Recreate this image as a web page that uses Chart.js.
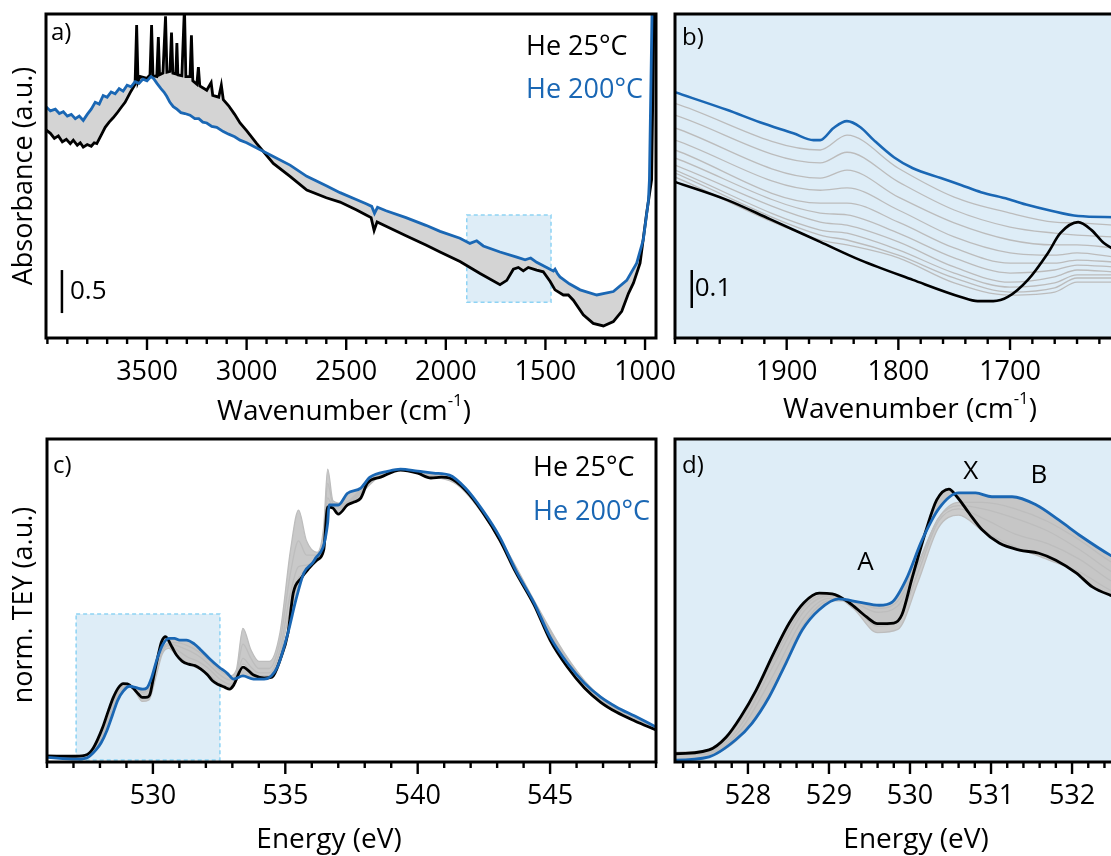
<!DOCTYPE html>
<html>
<head>
<meta charset="utf-8">
<title>IR and O K-edge spectra</title>
<script src="https://cdn.jsdelivr.net/npm/chart.js@4.4.1/dist/chart.umd.min.js"></script>
<style>
  html, body { margin: 0; padding: 0; background: #fff; width: 1111px; height: 856px; overflow: hidden; }
  canvas { position: absolute; }
</style>
</head>
<body>
<canvas id="panelB" width="455" height="430" style="left:660px;top:0"></canvas>
<canvas id="panelA" width="700" height="430" style="left:0;top:0"></canvas>
<canvas id="panelD" width="455" height="426" style="left:660px;top:430px"></canvas>
<canvas id="panelC" width="700" height="426" style="left:0;top:430px"></canvas>
<script>
// ---------- a) IR absorbance, full range ----------
const aTickLabels = [3500, 3000, 2500, 2000, 1500, 1000];
const aBlueWave = [4007, 3985, 3960, 3940, 3920, 3900, 3880, 3860, 3840, 3820, 3800, 3780, 3760, 3740, 3720,
  3700, 3680, 3660, 3640, 3620, 3600, 3580, 3560, 3540, 3520, 3500, 3480, 3468, 3450, 3430, 3415, 3401, 3385,
  3368, 3350, 3330, 3310, 3284, 3260, 3240, 3220, 3200, 3175, 3150, 3117, 3090, 3060, 3033, 3000, 2949, 2866,
  2782, 2698, 2600, 2531, 2450, 2400, 2372, 2358, 2343, 2300, 2200, 2100, 2029, 1929, 1879, 1845, 1812, 1728,
  1644, 1602, 1574, 1544, 1477, 1460, 1452, 1440, 1427, 1380, 1326, 1242, 1159, 1092, 1042, 1009, 983, 978, 965, 945];
const aBlue = [2.69, 2.64, 2.66, 2.61, 2.63, 2.58, 2.60, 2.55, 2.58, 2.53, 2.60, 2.66, 2.74, 2.72, 2.82,
  2.80, 2.86, 2.84, 2.90, 2.87, 2.94, 2.92, 2.98, 2.96, 3.01, 2.99, 3.04, 3.02, 2.96, 2.90, 2.86, 2.81, 2.74,
  2.69, 2.66, 2.62, 2.61, 2.59, 2.55, 2.55, 2.51, 2.50, 2.46, 2.45, 2.40, 2.37, 2.34, 2.30, 2.27, 2.21, 2.11,
  2.01, 1.88, 1.77, 1.69, 1.61, 1.56, 1.53, 1.45, 1.52, 1.48, 1.40, 1.31, 1.24, 1.16, 1.10, 1.13, 1.07, 1.00,
  0.94, 0.91, 0.93, 0.88, 0.80, 0.78, 0.80, 0.75, 0.71, 0.63, 0.56, 0.50, 0.54, 0.67, 0.87, 1.14, 1.60, 1.84, 3.77, 4.60];
const aBlackWave = [4007, 3985, 3965, 3945, 3925, 3905, 3885, 3870, 3850, 3835, 3820, 3800, 3780, 3765, 3752,
  3730, 3710, 3690, 3670, 3652, 3630, 3610, 3585, 3560, 3552, 3545, 3535, 3500, 3485, 3477, 3470, 3451, 3443,
  3437, 3420, 3407, 3400, 3385, 3377, 3370, 3355, 3350, 3345, 3325, 3312, 3305, 3284, 3277, 3270, 3250, 3242,
  3235, 3200, 3178, 3170, 3140, 3127, 3117, 3090, 3060, 3033, 3000, 2949, 2866, 2782, 2698, 2600, 2531, 2450,
  2400, 2375, 2360, 2345, 2300, 2200, 2100, 2029, 1929, 1828, 1728, 1694, 1661, 1636, 1611, 1586, 1544, 1511,
  1477, 1452, 1410, 1385, 1360, 1310, 1260, 1209, 1159, 1117, 1083, 1058, 1025, 992, 967, 955, 945];
const aBlack = [2.42, 2.38, 2.32, 2.35, 2.28, 2.31, 2.26, 2.30, 2.24, 2.27, 2.22, 2.25, 2.23, 2.27, 2.26,
  2.36, 2.45, 2.51, 2.56, 2.61, 2.68, 2.74, 2.85, 2.95, 3.64, 2.98, 3.04, 3.02, 3.06, 3.64, 3.05, 3.04, 3.50,
  3.06, 3.08, 3.74, 3.09, 3.10, 3.55, 3.08, 3.07, 3.43, 3.06, 3.05, 3.85, 3.04, 3.04, 3.52, 2.99, 2.95, 3.15,
  2.93, 2.88, 2.97, 2.82, 2.80, 2.94, 2.77, 2.70, 2.60, 2.50, 2.41, 2.26, 2.03, 1.88, 1.72, 1.63, 1.58, 1.49,
  1.43, 1.40, 1.25, 1.35, 1.30, 1.19, 1.08, 1.00, 0.89, 0.75, 0.62, 0.67, 0.80, 0.82, 0.78, 0.82, 0.79, 0.77,
  0.66, 0.56, 0.50, 0.50, 0.44, 0.27, 0.17, 0.14, 0.19, 0.31, 0.52, 0.64, 0.87, 1.45, 1.84, 3.80, 4.60];
const aZoomWave = [1895, 1472];
const aZoomAbs = [0.415, 1.43];

// ---------- b) IR absorbance, carbonyl region ----------
const bTickLabels = [1900, 1800, 1700];
const bBlueWave = [2000, 1953, 1924, 1894, 1876, 1870, 1858, 1846, 1834, 1822, 1804, 1787, 1762, 1744, 1726,
  1702, 1684, 1666, 1639, 1606];
const bBlue = [0.647, 0.600, 0.568, 0.539, 0.521, 0.521, 0.553, 0.571, 0.555, 0.521, 0.476, 0.447, 0.421, 0.403,
  0.384, 0.366, 0.350, 0.337, 0.321, 0.318];
const bBlackWave = [2000, 1953, 1915, 1870, 1834, 1787, 1744, 1729, 1715, 1702, 1684, 1666, 1655, 1639, 1627, 1616, 1606];
const bBlack = [0.411, 0.363, 0.313, 0.253, 0.205, 0.153, 0.108, 0.097, 0.097, 0.108, 0.153, 0.224, 0.276, 0.305,
  0.284, 0.250, 0.232];
const bGrayWave = [2000, 1870, 1846, 1800, 1750, 1700, 1660, 1640, 1606];
const bGrayLines = [
  [0.618, 0.495, 0.534, 0.447, 0.371, 0.329, 0.305, 0.303, 0.297],
  [0.587, 0.461, 0.489, 0.411, 0.337, 0.292, 0.276, 0.271, 0.266],
  [0.553, 0.421, 0.442, 0.371, 0.303, 0.258, 0.245, 0.245, 0.237],
  [0.521, 0.389, 0.395, 0.337, 0.266, 0.224, 0.218, 0.224, 0.213],
  [0.495, 0.355, 0.355, 0.305, 0.237, 0.197, 0.197, 0.205, 0.200],
  [0.474, 0.329, 0.324, 0.276, 0.211, 0.171, 0.179, 0.192, 0.187],
  [0.455, 0.305, 0.297, 0.253, 0.187, 0.147, 0.161, 0.179, 0.174],
  [0.442, 0.284, 0.276, 0.232, 0.171, 0.134, 0.145, 0.166, 0.166],
  [0.434, 0.271, 0.258, 0.218, 0.158, 0.121, 0.132, 0.158, 0.158],
  [0.424, 0.258, 0.245, 0.211, 0.145, 0.113, 0.121, 0.147, 0.147]
];

// ---------- c) / d) O K-edge TEY ----------
const cTickLabels = [530, 535, 540, 545];
const dTickLabels = [528, 529, 530, 531, 532];
const dEnergyRange = [527.1, 532.53];
const dTeyRange = [-0.014, 0.495];
const cBlackEnergy = [526.0, 527.09, 527.52, 527.73, 527.91, 528.1, 528.32, 528.51, 528.69, 528.88, 529.04,
  529.25, 529.46, 529.6, 529.8, 529.9, 530.02, 530.2, 530.33, 530.48, 530.58, 530.73, 530.89, 531.1, 531.35,
  531.59, 531.8, 532.05, 532.25, 532.47, 532.7, 532.9, 533.05, 533.4, 533.8, 534.2, 534.5, 534.8, 535.1, 535.3,
  535.6, 535.9, 536.2, 536.45, 536.6, 536.8, 537.0, 537.35, 537.6, 537.85, 538.1, 538.6, 539.35, 540.0, 540.5,
  540.9, 541.2, 541.8, 542.45, 543.1, 543.7, 544.4, 545.0, 545.65, 546.3, 546.9, 547.5, 548.2, 549.0];
const cBlack = [0.000, -0.001, 0.005, 0.025, 0.057, 0.099, 0.158, 0.205, 0.237, 0.252, 0.251, 0.237, 0.215,
  0.204, 0.205, 0.218, 0.273, 0.352, 0.399, 0.416, 0.404, 0.378, 0.352, 0.331, 0.320, 0.315, 0.304, 0.284,
  0.262, 0.249, 0.240, 0.233, 0.247, 0.310, 0.282, 0.272, 0.275, 0.334, 0.429, 0.568, 0.620, 0.655, 0.683,
  0.718, 0.868, 0.864, 0.843, 0.875, 0.885, 0.899, 0.951, 0.972, 0.997, 0.986, 0.969, 0.972, 0.969, 0.927,
  0.850, 0.753, 0.641, 0.526, 0.404, 0.310, 0.237, 0.188, 0.153, 0.122, 0.091];
const cBlueEnergy = [526.0, 527.09, 527.52, 527.85, 528.05, 528.26, 528.47, 528.67, 528.88, 529.12, 529.37,
  529.62, 529.78, 529.95, 530.15, 530.36, 530.6, 530.81, 531.01, 531.26, 531.56, 531.84, 532.12, 532.47, 532.8,
  533.05, 533.4, 533.8, 534.2, 534.7, 535.1, 535.4, 535.7, 536.1, 536.6, 536.65, 537.0, 537.35, 537.85, 538.2,
  538.9, 539.35, 540.0, 540.6, 541.2, 541.8, 542.45, 543.1, 543.7, 544.4, 545.0, 545.65, 546.3, 546.9, 547.5,
  548.2, 549.0];
const cBlue = [-0.005, -0.011, -0.006, 0.021, 0.047, 0.088, 0.142, 0.194, 0.226, 0.243, 0.238, 0.233, 0.238,
  0.273, 0.336, 0.386, 0.410, 0.410, 0.404, 0.404, 0.391, 0.367, 0.341, 0.312, 0.289, 0.268, 0.279, 0.268,
  0.268, 0.310, 0.429, 0.544, 0.638, 0.683, 0.812, 0.875, 0.875, 0.916, 0.934, 0.972, 0.993, 1.000, 0.993,
  0.986, 0.979, 0.934, 0.857, 0.763, 0.648, 0.533, 0.415, 0.324, 0.254, 0.206, 0.171, 0.139, 0.101];
const cGrayEnergy = [526, 527.5, 527.9, 528.3, 528.7, 529.0, 529.3, 529.6, 529.85, 530.1, 530.35, 530.6, 530.9,
  531.3, 531.7, 532.1, 532.5, 532.9, 533.15, 533.4, 533.7, 534.0, 534.4, 534.8, 535.2, 535.5, 535.8, 536.2,
  536.45, 536.6, 536.8, 537.2, 537.8, 538.5, 539.4, 540.5, 541.5, 542.5, 543.5, 544.5, 545.5, 546.5, 547.5, 549.0];
const cGrayLines = [
  [0, -0.002, 0.025, 0.10, 0.205, 0.24, 0.24, 0.228, 0.24, 0.30, 0.37, 0.395, 0.395, 0.385, 0.365, 0.335, 0.30,
   0.28, 0.30, 0.445, 0.37, 0.33, 0.33, 0.43, 0.72, 0.857, 0.75, 0.71, 0.80, 1.0, 0.89, 0.88, 0.925, 0.98, 0.998,
   0.982, 0.955, 0.848, 0.695, 0.525, 0.365, 0.242, 0.168, 0.099],
  [0, 0.0, 0.035, 0.12, 0.215, 0.244, 0.238, 0.222, 0.232, 0.295, 0.37, 0.39, 0.385, 0.37, 0.35, 0.32, 0.285,
   0.265, 0.285, 0.39, 0.34, 0.305, 0.305, 0.40, 0.64, 0.75, 0.70, 0.70, 0.77, 0.95, 0.88, 0.875, 0.92, 0.975,
   0.998, 0.98, 0.952, 0.845, 0.692, 0.52, 0.36, 0.238, 0.164, 0.097],
  [0, 0.002, 0.042, 0.135, 0.225, 0.248, 0.232, 0.20, 0.21, 0.285, 0.365, 0.385, 0.37, 0.345, 0.33, 0.305, 0.27,
   0.25, 0.27, 0.34, 0.31, 0.29, 0.29, 0.37, 0.57, 0.66, 0.665, 0.69, 0.75, 0.90, 0.87, 0.87, 0.915, 0.972,
   0.998, 0.978, 0.95, 0.842, 0.69, 0.515, 0.355, 0.235, 0.16, 0.095],
  [0, 0.003, 0.05, 0.145, 0.232, 0.25, 0.228, 0.19, 0.195, 0.27, 0.355, 0.375, 0.35, 0.325, 0.305, 0.285, 0.255,
   0.24, 0.262, 0.32, 0.295, 0.28, 0.28, 0.35, 0.52, 0.62, 0.65, 0.685, 0.735, 0.88, 0.865, 0.865, 0.91, 0.97,
   0.998, 0.975, 0.945, 0.838, 0.685, 0.51, 0.35, 0.23, 0.157, 0.093]
];

const FONT = "'Open Sans', sans-serif";
const BLUE = '#1a67b4';
const PANEL_BG = '#deedf7';

const pts = (xs, ys) => xs.map((x, i) => ({ x, y: ys[i] }));

function drawSupTitle(ctx, cx, cy, main, sup, tail, size) {
  ctx.font = `${size}px ${FONT}`;
  const w1 = ctx.measureText(main).width, w3 = ctx.measureText(tail).width;
  ctx.font = `${size * 0.6}px ${FONT}`;
  const w2 = ctx.measureText(sup).width;
  let x = cx - (w1 + w2 + w3) / 2;
  ctx.textAlign = 'left';
  ctx.textBaseline = 'middle';
  ctx.font = `${size}px ${FONT}`;
  ctx.fillText(main, x, cy);
  x += w1;
  ctx.font = `${size * 0.6}px ${FONT}`;
  ctx.fillText(sup, x, cy - size * 0.38);
  x += w2;
  ctx.font = `${size}px ${FONT}`;
  ctx.fillText(tail, x, cy);
}

// backgrounds, zoom box, frame, ticks and annotations
function decor(o) {
  return {
    id: 'decor',
    beforeDraw(chart) {
      const { ctx, chartArea: ca, scales: { x, y } } = chart;
      ctx.save();
      if (o.background) {
        ctx.fillStyle = o.background;
        ctx.fillRect(ca.left, ca.top, ca.right - ca.left, ca.bottom - ca.top);
      }
      if (o.box) {
        const l = x.getPixelForValue(o.box.x[0]), r = x.getPixelForValue(o.box.x[1]);
        const t = y.getPixelForValue(o.box.y[1]), b = y.getPixelForValue(o.box.y[0]);
        const left = Math.min(l, r), w = Math.abs(r - l);
        ctx.fillStyle = PANEL_BG;
        ctx.fillRect(left, t, w, b - t);
        ctx.setLineDash([4, 3]);
        ctx.strokeStyle = '#8ed3f4';
        ctx.lineWidth = 1.5;
        ctx.strokeRect(left, t, w, b - t);
      }
      ctx.restore();
    },
    afterDraw(chart) {
      const { ctx, chartArea: ca, scales: { x, y } } = chart;
      ctx.save();
      ctx.strokeStyle = '#000';
      ctx.fillStyle = '#000';
      ctx.lineWidth = 2.4;
      for (let i = Math.ceil(x.min / o.minor - 1e-9); i * o.minor <= x.max + 1e-9; i++) {
        const v = i * o.minor;
        const major = o.ticks.some(t => Math.abs(t - v) < 1e-6);
        const px = x.getPixelForValue(v);
        ctx.beginPath();
        ctx.moveTo(px, ca.bottom);
        ctx.lineTo(px, ca.bottom + (major ? 12 : 6));
        ctx.stroke();
      }
      ctx.lineWidth = 3;
      ctx.strokeRect(ca.left, ca.top, ca.right - ca.left, ca.bottom - ca.top);

      if (o.scaleBar) {
        const sb = o.scaleBar;
        const px = x.getPixelForValue(sb.x);
        const y0 = y.getPixelForValue(sb.from), y1 = y.getPixelForValue(sb.from + sb.len);
        ctx.lineWidth = 2.5;
        ctx.beginPath();
        ctx.moveTo(px, y0);
        ctx.lineTo(px, y1);
        ctx.stroke();
        ctx.font = `26px ${FONT}`;
        ctx.textAlign = 'left';
        ctx.textBaseline = 'middle';
        ctx.fillText(sb.label, px + sb.gap, (y0 + y1) / 2);
      }
      for (const t of o.texts || []) {
        ctx.font = `${t.size}px ${FONT}`;
        ctx.fillStyle = t.color || '#000';
        ctx.textAlign = t.align || 'left';
        ctx.textBaseline = 'middle';
        ctx.fillText(t.text, t.x, t.y);
      }
      for (const t of o.peakLabels || []) {
        ctx.font = `26px ${FONT}`;
        ctx.fillStyle = '#000';
        ctx.textAlign = 'center';
        ctx.textBaseline = 'middle';
        ctx.fillText(t.text, x.getPixelForValue(t.x), y.getPixelForValue(t.y));
      }
      ctx.fillStyle = '#000';
      if (o.xTitle) {
        const xt = o.xTitle;
        if (xt.sup) {
          drawSupTitle(ctx, xt.x, xt.y, xt.text, xt.sup, xt.tail, 28);
        } else {
          ctx.font = `28px ${FONT}`;
          ctx.textAlign = 'center';
          ctx.textBaseline = 'middle';
          ctx.fillText(xt.text, xt.x, xt.y);
        }
      }
      if (o.yTitle) {
        ctx.translate(o.yTitle.x, o.yTitle.y);
        ctx.rotate(-Math.PI / 2);
        ctx.font = `27px ${FONT}`;
        ctx.textAlign = 'center';
        ctx.textBaseline = 'middle';
        ctx.fillText(o.yTitle.text, 0, 0);
      }
      ctx.restore();
    }
  };
}

function spectrumChart(id, cfg) {
  const datasets = [
    { data: pts(cfg.blue[0], cfg.blue[1]), borderColor: BLUE, borderWidth: cfg.lineWidth },
    { data: pts(cfg.black[0], cfg.black[1]), borderColor: '#000', borderWidth: cfg.lineWidth,
      fill: cfg.band ? '-1' : false, backgroundColor: cfg.band || 'transparent' }
  ];
  const grays = cfg.grays || [];
  grays.forEach((g, i) => {
    const last = i === grays.length - 1 && cfg.grayBand;
    datasets.push({
      data: pts(cfg.grayX, g), borderColor: cfg.grayColor, borderWidth: cfg.grayWidth,
      // spread of the intermediate spectra, filled from the last gray line up to the first
      fill: last ? 2 : false, backgroundColor: last ? cfg.grayBand : 'transparent'
    });
  });
  return new Chart(document.getElementById(id), {
    type: 'line',
    data: { datasets },
    options: {
      responsive: false,
      animation: false,
      events: [],
      elements: {
        point: { radius: 0 },
        line: { tension: 0, cubicInterpolationMode: cfg.smooth ? 'monotone' : 'default' }
      },
      layout: { padding: cfg.padding },
      plugins: {
        legend: { display: false },
        tooltip: { enabled: false },
        filler: { drawTime: 'beforeDatasetsDraw' }
      },
      scales: {
        x: {
          type: 'linear',
          reverse: !!cfg.reverse,
          min: cfg.xRange[0],
          max: cfg.xRange[1],
          afterBuildTicks: s => { s.ticks = cfg.ticks.map(v => ({ value: v })); },
          afterFit: s => { s.height = cfg.axisHeight; },
          grid: { display: false, drawTicks: true, tickLength: 12 },
          border: { display: false },
          ticks: {
            autoSkip: false, maxRotation: 0, padding: 6, color: '#000',
            font: { family: FONT, size: 27 },
            callback: v => String(v)
          }
        },
        y: { type: 'linear', display: false, min: cfg.yRange[0], max: cfg.yRange[1] }
      }
    },
    plugins: [decor(cfg)]
  });
}

Chart.defaults.font.family = FONT;

spectrumChart('panelA', {
  blue: [aBlueWave, aBlue], black: [aBlackWave, aBlack],
  band: '#d4d4d4', lineWidth: 2.8, smooth: false, reverse: true,
  xRange: [945, 4007], yRange: [0, 3.767], ticks: aTickLabels, minor: 100,
  padding: { left: 46, top: 14, right: 44, bottom: 0 }, axisHeight: 92,
  box: { x: aZoomWave, y: aZoomAbs },
  scaleBar: { x: 3927, from: 0.29, len: 0.5, label: '0.5', gap: 8 },
  texts: [
    { text: 'a)', x: 51, y: 33, size: 24 },
    { text: 'He 25°C', x: 526, y: 47, size: 27 },
    { text: 'He 200°C', x: 526, y: 90, size: 27, color: BLUE }
  ],
  xTitle: { text: 'Wavenumber (cm', sup: '-1', tail: ')', x: 344, y: 412 },
  yTitle: { text: 'Absorbance (a.u.)', x: 24, y: 176 }
});

spectrumChart('panelB', {
  blue: [bBlueWave, bBlue], black: [bBlackWave, bBlack],
  grayX: bGrayWave, grays: bGrayLines, grayColor: '#bcbcbc', grayWidth: 1.3,
  lineWidth: 2.6, smooth: true, reverse: true,
  xRange: [1606, 2000], yRange: [0, 0.853], ticks: bTickLabels, minor: 20,
  padding: { left: 15, top: 14, right: 0, bottom: 0 }, axisHeight: 92,
  background: PANEL_BG,
  scaleBar: { x: 1985, from: 0.079, len: 0.1, label: '0.1', gap: 3 },
  texts: [{ text: 'b)', x: 22, y: 38, size: 24 }],
  xTitle: { text: 'Wavenumber (cm', sup: '-1', tail: ')', x: 250, y: 410 }
});

spectrumChart('panelC', {
  blue: [cBlueEnergy, cBlue], black: [cBlackEnergy, cBlack],
  grayX: cGrayEnergy, grays: cGrayLines, grayColor: '#bdbdbd', grayWidth: 1.3, grayBand: '#c9c9c9',
  band: '#c6c6c6', lineWidth: 2.8, smooth: true,
  xRange: [526.0, 549.0], yRange: [-0.021, 1.105], ticks: cTickLabels, minor: 1,
  padding: { left: 47, top: 9, right: 44, bottom: 0 }, axisHeight: 94,
  box: { x: dEnergyRange, y: dTeyRange },
  texts: [
    { text: 'c)', x: 53, y: 36, size: 24 },
    { text: 'He 25°C', x: 533, y: 38, size: 27 },
    { text: 'He 200°C', x: 533, y: 82, size: 27, color: BLUE }
  ],
  xTitle: { text: 'Energy (eV)', x: 329, y: 410 },
  yTitle: { text: 'norm. TEY (a.u.)', x: 24, y: 175 }
});

spectrumChart('panelD', {
  blue: [cBlueEnergy, cBlue], black: [cBlackEnergy, cBlack],
  grayX: cGrayEnergy, grays: cGrayLines, grayColor: '#bdbdbd', grayWidth: 1.3, grayBand: '#cbcbcb',
  band: '#c6c6c6', lineWidth: 2.8, smooth: true,
  xRange: dEnergyRange, yRange: dTeyRange, ticks: dTickLabels, minor: 0.2,
  padding: { left: 15, top: 9, right: 0, bottom: 0 }, axisHeight: 94,
  background: PANEL_BG,
  texts: [{ text: 'd)', x: 22, y: 36, size: 24 }],
  peakLabels: [
    { text: 'A', x: 529.45, y: 0.300 },
    { text: 'X', x: 530.75, y: 0.443 },
    { text: 'B', x: 531.59, y: 0.438 }
  ],
  xTitle: { text: 'Energy (eV)', x: 256, y: 410 }
});
</script>
</body>
</html>
